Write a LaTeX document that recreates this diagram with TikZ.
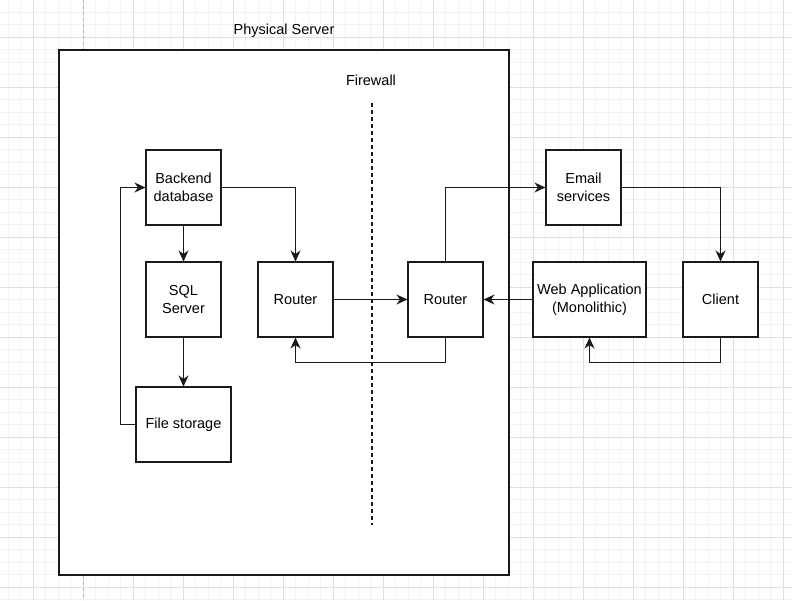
\documentclass[tikz,border=0pt]{standalone}
\usepackage{fontspec}
\setmainfont{Liberation Sans}
\usetikzlibrary{arrows.meta}
\definecolor{gminor}{HTML}{F3F3F3}
\definecolor{gmajor}{HTML}{E0E0E0}
\definecolor{ln}{HTML}{1A1A1A}
\tikzset{
  blk/.style={draw=ln, fill=white, line width=1.1pt, minimum width=75pt, minimum height=75pt, inner sep=1pt, align=center, font=\fontsize{14.5}{18}\selectfont},
  lbl/.style={font=\fontsize{14.5}{18}\selectfont, inner sep=0pt},
  conn/.style={draw=ln, line width=1.1pt, -{Stealth[length=11pt,width=10pt,inset=3.5pt]}},
}
\begin{document}
\begin{tikzpicture}[x=1pt,y=-1pt]
\useasboundingbox (0,0) rectangle (792,600);
\fill[white] (0,0) rectangle (792,600);
% grid
\foreach \i in {0,...,63} {
  \pgfmathsetmacro{\xx}{8+12.5*\i}
  \draw[gminor, line width=0.8pt] (\xx,0) -- (\xx,600);
}
\foreach \i in {0,...,48} {
  \pgfmathsetmacro{\yy}{12+12.5*\i}
  \draw[gminor, line width=0.8pt] (0,\yy) -- (792,\yy);
}
\foreach \i in {0,...,15} {
  \pgfmathsetmacro{\xx}{33+50*\i}
  \draw[gmajor, line width=0.8pt] (\xx,0) -- (\xx,600);
}
\foreach \i in {0,...,11} {
  \pgfmathsetmacro{\yy}{37+50*\i}
  \draw[gmajor, line width=0.8pt] (0,\yy) -- (792,\yy);
}
\draw[gray!60, line width=0.8pt, dash pattern=on 3pt off 3pt] (83,0) -- (83,600);
% physical server
\draw[ln, fill=white, line width=1.1pt] (59,50) rectangle (509,575);
\node[lbl] (ps) at (284,31) {Physical Server};
\node[lbl] (fw) at (371,80) {Firewall};
\coordinate (fwt) at (372,103);
\coordinate (fwb) at (372,525);
\draw[ln, line width=1.1pt, dash pattern=on 4pt off 3pt] (fwt) -- (fwb);
% nodes
\node[blk] (db) at (183.5,187.5) {Backend\\database};
\node[blk] (sql) at (183.5,299.5) {SQL\\Server};
\node[blk, minimum width=95pt] (fs) at (183.5,424.5) {File storage};
\node[blk] (r1) at (295.5,299.5) {Router};
\node[blk] (r2) at (445.5,299.5) {Router};
\node[blk] (em) at (583.5,187.5) {Email\\services};
\node[blk, minimum width=113pt] (web) at (589.5,299.5) {Web Application\\(Monolithic)};
\node[blk] (cl) at (720.5,299.5) {Client};
% connectors
\draw[conn] (db) -- (sql);
\draw[conn] (sql) -- (fs);
\draw[conn] (db.east) -| (r1.north);
\draw[conn] (fs.west) -- ++(-15,0) |- (db.west);
\draw[conn] (r1) -- (r2);
\draw[conn] (r2.north) |- (em.west);
\draw[conn] (r2.south) -- ++(0,25) -| (r1.south);
\draw[conn] (web) -- (r2);
\draw[conn] (em.east) -| (cl.north);
\draw[conn] (cl.south) -- ++(0,25) -| (web.south);
\end{tikzpicture}
\end{document}
